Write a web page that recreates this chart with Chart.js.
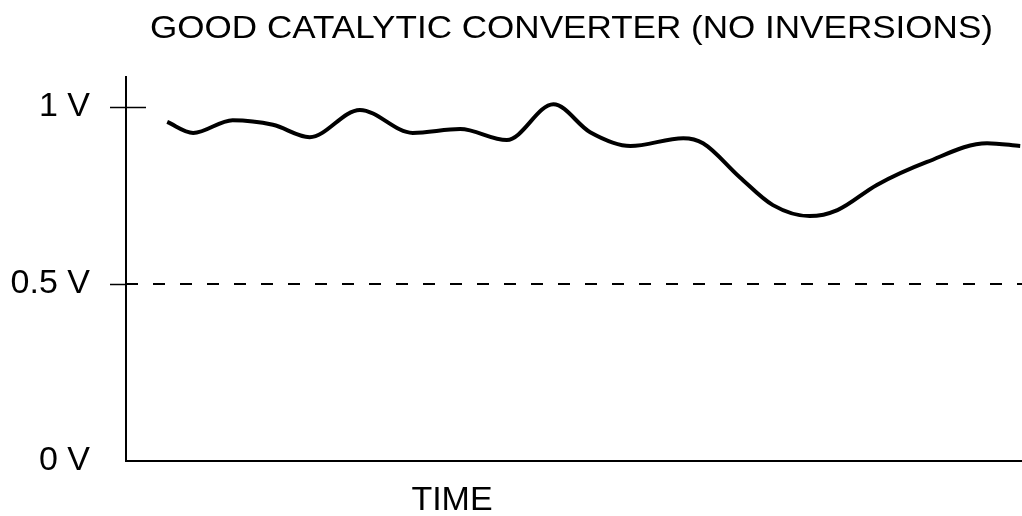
<!DOCTYPE html>
<html>
<head>
<meta charset="utf-8">
<script src="https://cdn.jsdelivr.net/npm/chart.js@4"></script>
<style>
  html, body { margin: 0; padding: 0; background: #fff; }
  #wrap { width: 1022px; height: 516px; position: relative; }
</style>
</head>
<body>
<div id="wrap"><canvas id="sensorChart"></canvas></div>
<script>
const chartTitle = "GOOD CATALYTIC CONVERTER (NO INVERSIONS)";
const xTitle = "TIME";

// oxygen sensor trace (time in arbitrary units 0-100)
const timeVals = [4.6, 7.5, 11.9, 16.4, 20.5, 26.1, 32.0, 37.3, 42.5, 47.7, 51.8, 56.3, 62.2, 64.4, 68.5, 72.2, 76.3, 79.4, 83.8, 89.4, 96.1, 99.8];
const voltVals = [0.958, 0.927, 0.963, 0.950, 0.915, 0.992, 0.927, 0.938, 0.907, 1.008, 0.929, 0.890, 0.912, 0.898, 0.802, 0.723, 0.692, 0.709, 0.780, 0.845, 0.898, 0.890];

const tickVals = [0, 0.5, 1];
const tickLabels = ["0 V", "0.5 V", "1 V"];
const refLevel = 0.5;

const trace = timeVals.map((t, i) => ({ x: t, y: voltVals[i] }));
const refLine = [{ x: 0, y: refLevel }, { x: 100, y: refLevel }];

const extras = {
  id: "extras",
  afterDraw(chart) {
    const ctx = chart.ctx;
    const area = chart.chartArea;
    const y = chart.scales.y;
    ctx.save();
    // short tick inside the plot at 1 V
    ctx.strokeStyle = "#000";
    ctx.lineWidth = 1.5;
    ctx.beginPath();
    const py = Math.round(y.getPixelForValue(1)) + 0.5;
    ctx.moveTo(area.left, py);
    ctx.lineTo(area.left + 20, py);
    ctx.stroke();

    ctx.fillStyle = "#000";
    ctx.textBaseline = "alphabetic";
    // title is printed wide in the original, so stretch it sideways
    ctx.font = "31px 'Liberation Sans', Arial, sans-serif";
    ctx.textAlign = "left";
    const w = ctx.measureText(chartTitle).width;
    ctx.save();
    ctx.translate(150, 38);
    ctx.scale(843 / w, 1);
    ctx.fillText(chartTitle, 0, 0);
    ctx.restore();

    ctx.font = "34px 'Liberation Sans', Arial, sans-serif";
    ctx.textAlign = "center";
    ctx.fillText(xTitle, 452, 510);
    ctx.restore();
  }
};

const ctx = document.getElementById("sensorChart").getContext("2d");
const chart = new Chart(ctx, {
  type: "line",
  data: {
    datasets: [
      {
        data: trace,
        borderColor: "#000",
        borderWidth: 4,
        pointRadius: 0,
        cubicInterpolationMode: "monotone",
        fill: false
      },
      {
        data: refLine,
        borderColor: "#000",
        borderWidth: 2,
        borderDash: [12, 15],
        pointRadius: 0,
        fill: false
      }
    ]
  },
  options: {
    responsive: true,
    maintainAspectRatio: false,
    devicePixelRatio: 1,
    animation: false,
    layout: { padding: { top: 77, right: 0, left: 0, bottom: 0 } },
    plugins: {
      legend: { display: false },
      tooltip: { enabled: false },
      title: { display: false }
    },
    scales: {
      x: {
        type: "linear",
        min: 0,
        max: 100,
        ticks: { display: false },
        grid: { display: false, drawTicks: false },
        border: { display: true, color: "#000", width: 2 },
        afterFit(scale) { scale.height = 55; }
      },
      y: {
        min: 0,
        max: 1.085,
        afterBuildTicks(scale) {
          scale.ticks = tickVals.map(v => ({ value: v }));
        },
        ticks: {
          color: "#000",
          padding: 20,
          font: { family: "'Liberation Sans', Arial, sans-serif", size: 34 },
          callback: (v) => tickLabels[tickVals.indexOf(v)]
        },
        grid: {
          drawOnChartArea: false,
          tickLength: 16,
          tickWidth: 1.5,
          tickColor: (c) => (c.tick && c.tick.value === 0 ? "rgba(0,0,0,0)" : "#000")
        },
        border: { display: true, color: "#000", width: 2 },
        afterFit(scale) { scale.width = 126; }
      }
    }
  },
  plugins: [extras]
});
</script>
</body>
</html>
